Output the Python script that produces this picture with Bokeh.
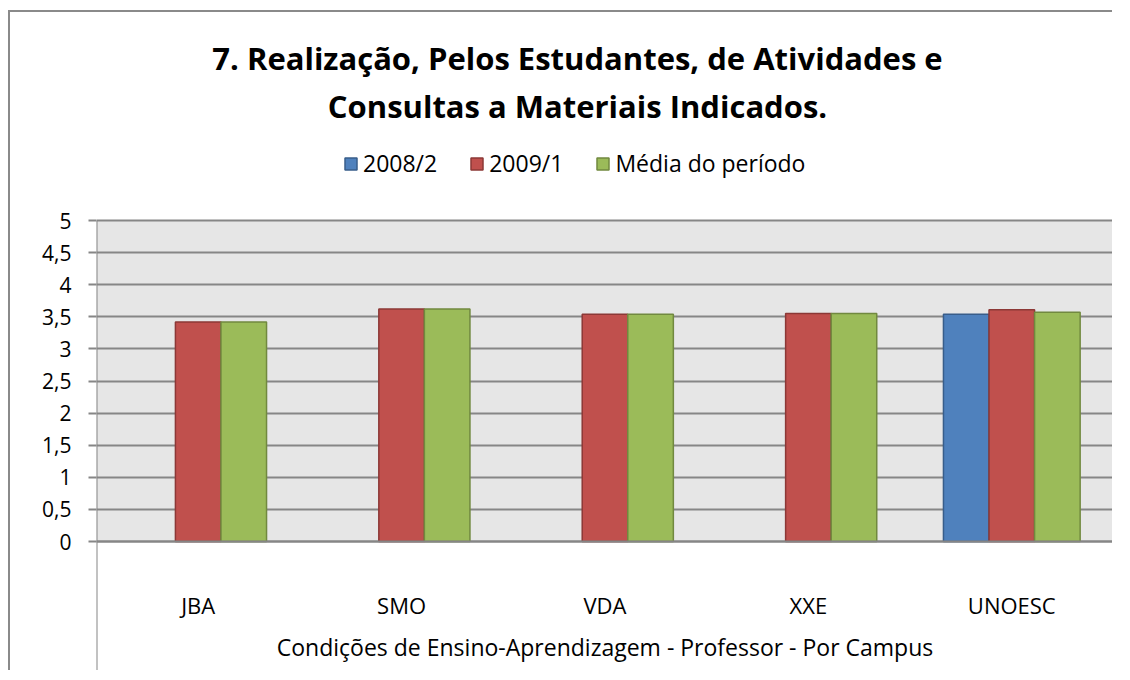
from bokeh.plotting import figure
from bokeh.models import (ColumnDataSource, Range1d, FixedTicker, CustomJSTickFormatter,
                          Label, Legend, LegendItem, BoxAnnotation)
from bokeh.transform import dodge
from bokeh.embed import file_html
from bokeh.resources import INLINE

# ---- data ----
categories = ["JBA", "SMO", "VDA", "XXE", "UNOESC"]
series_names = ["2008/2", "2009/1", "Média do período"]
s2008_2 = [float("nan"), float("nan"), float("nan"), float("nan"), 3.54]
s2009_1 = [3.42, 3.62, 3.54, 3.55, 3.61]
s_media = [3.42, 3.62, 3.54, 3.55, 3.57]
y_ticks = [0, 0.5, 1, 1.5, 2, 2.5, 3, 3.5, 4, 4.5, 5]
title_lines = ["7. Realização, Pelos Estudantes, de Atividades e",
               "Consultas a Materiais Indicados."]
x_title = "Condições de Ensino-Aprendizagem - Professor - Por Campus"

FONT = "Open Sans"
GRID = "#868686"
fills = ["#4F81BD", "#C0504D", "#9BBB59"]
lines = ["#385D8A", "#8C3836", "#71893F"]

n = len(categories)
y_top = y_ticks[-1]
y_low = -2.04   # label area below the value axis
y_high = 8.24   # header area (title + legend) above the value axis

pos = [i + 0.5 for i in range(n)]
src = ColumnDataSource(dict(x=pos, a=s2008_2, b=s2009_1, c=s_media))

p = figure(width=1104, height=660, output_backend="svg", toolbar_location=None,
           x_range=Range1d(0, n), y_range=Range1d(y_low, y_high),
           min_border_left=86, min_border_right=1, min_border_top=0,
           min_border_bottom=0)
p.styles = {"margin-left": "8px", "margin-top": "10px",
            "border-left": "2px solid #8a8a8a", "border-top": "2px solid #8a8a8a"}
p.background_fill_color = "white"
p.border_fill_color = "white"
p.outline_line_color = None

# plot-area background (value region only)
p.add_layout(BoxAnnotation(bottom=0, top=y_top, left=0, right=n, fill_color="#E6E6E6",
                           fill_alpha=1, line_color=None, level="image"))

bw = 0.224
offs = [-bw, 0.0, bw]
renderers = []
for col, off, fc, lc in zip(["a", "b", "c"], offs, fills, lines):
    r = p.vbar(x=dodge("x", off, range=p.x_range), top=col, bottom=0, width=bw,
               source=src, fill_color=fc, line_color=lc, line_width=1.5)
    renderers.append(r)

# value-axis line (left) and right divider of the category-label area
p.segment(x0=[0], x1=[0], y0=[y_top], y1=[y_low], line_color=GRID, line_width=2)
p.segment(x0=[n], x1=[n], y0=[0], y1=[y_low], line_color=GRID, line_width=2)

# y axis
yax = p.yaxis[0]
yax.ticker = FixedTicker(ticks=y_ticks, minor_ticks=[])
yax.formatter = CustomJSTickFormatter(code="return tick.toString().replace('.', ',')")
yax.axis_line_color = None
yax.major_tick_line_color = GRID
yax.major_tick_line_width = 2
yax.major_tick_out = 8
yax.major_tick_in = 0
yax.major_label_standoff = 17
yax.major_label_text_font = FONT
yax.major_label_text_font_size = "21px"
yax.major_label_text_color = "black"

# x axis (fixed at value 0)
xax = p.xaxis[0]
xax.fixed_location = 0
xax.ticker = FixedTicker(ticks=pos, minor_ticks=[])
xax.formatter = CustomJSTickFormatter(args=dict(cats=categories),
                                      code="return cats[Math.floor(tick)]")
xax.axis_line_color = GRID
xax.axis_line_width = 2
xax.major_tick_line_color = None
xax.major_tick_out = 0
xax.major_tick_in = 0
xax.major_label_standoff = 48
xax.major_label_text_font = FONT
xax.major_label_text_font_size = "22px"
xax.major_label_text_color = "black"
xax.axis_label = x_title
xax.axis_label_text_font = FONT
xax.axis_label_text_font_size = "23px"
xax.axis_label_text_font_style = "normal"
xax.axis_label_text_color = "black"
xax.axis_label_standoff = 8

p.xgrid.visible = False
p.ygrid.grid_line_color = GRID
p.ygrid.grid_line_width = 2
p.ygrid.ticker = FixedTicker(ticks=y_ticks)

# title (two lines), positioned relative to the plot frame
for txt, yy in zip(title_lines, [615, 567]):
    p.add_layout(Label(x=481, y=yy, x_units="screen", y_units="screen", text=txt,
                       text_align="center", text_baseline="middle",
                       text_font=FONT, text_font_size="31px", text_font_style="bold",
                       text_color="black"))

# legend
legend = Legend(items=[LegendItem(label=s, renderers=[r]) for s, r in zip(series_names, renderers)],
                orientation="horizontal", location=(247, 493), padding=0, margin=0,
                spacing=32, glyph_width=15, glyph_height=15, label_standoff=5,
                label_text_font=FONT, label_text_font_size="23px",
                label_text_color="black",
                background_fill_alpha=0, border_line_color=None)
p.add_layout(legend, "center")

open("out.html", "w").write(file_html(p, INLINE))
